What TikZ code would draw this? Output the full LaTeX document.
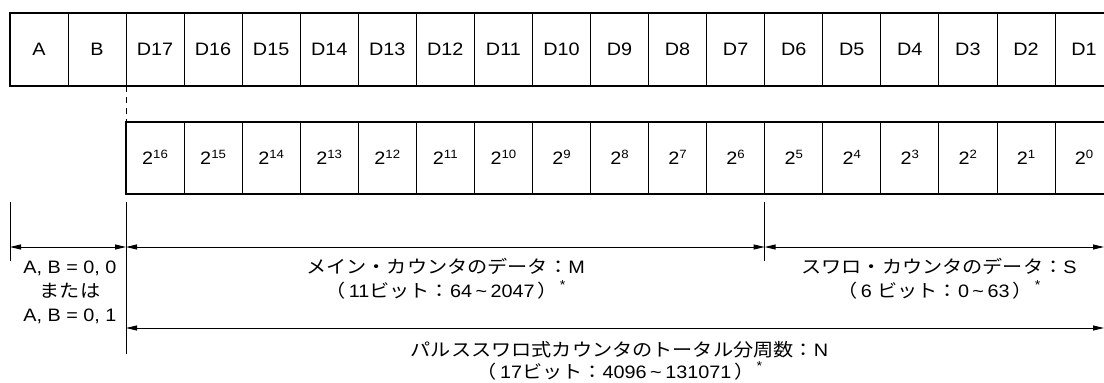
\documentclass[tikz,border=0pt]{standalone}
\usepackage{fontspec}
\setmainfont[FakeStretch=1.1]{Liberation Sans}
\newfontfamily\jp[FakeStretch=1.12,Scale=1.0]{Noto Sans CJK JP}
\usetikzlibrary{arrows.meta,calc}
\newcommand{\sptxt}[1]{\raisebox{6pt}{\fontsize{12}{12}\selectfont #1}}
\newcommand{\astr}{\hspace{2pt}\raisebox{8pt}{\fontsize{13}{13}\selectfont *}}
\newcommand{\tld}{\hspace{3.5pt}\textasciitilde\hspace{3.5pt}}
\newcommand{\lpar}{{\jp （}\hspace{3pt}}
\newcommand{\rpar}{\hspace{3pt}{\jp ）}}
\begin{document}
\begin{tikzpicture}[x=1pt,y=-1pt,
  font=\fontsize{18}{21}\selectfont,
  cell/.style={draw, line width=0.8pt, minimum width=58.06pt, minimum height=73pt,
    inner sep=0pt, outer sep=0pt, text height=12.9pt, text depth=0pt},
  outerbox/.style={line width=2.2pt, line join=miter},
  dimline/.style={line width=0.9pt},
  dimarrow/.style={line width=0.9pt, {Triangle[length=11pt,width=5pt]}-{Triangle[length=11pt,width=5pt]}},
  txt/.style={anchor=base, inner sep=0pt}
]
\useasboundingbox (0,0) rectangle (1104,383);
\clip (0,0) rectangle (1104,383);

% top row
\node[cell] (A) at (39,49.5) {A};
\node[cell] (B) at (97,49.5) {B};
\foreach \k in {1,...,17}{
  \pgfmathsetmacro{\xc}{126+(17-\k+0.5)*58.06}
  \pgfmathtruncatemacro{\e}{\k-1}
  \node[cell] (D\k) at (\xc,49.5) {D\k};
  \node[cell, minimum height=72pt] (P\k) at (\xc,158) {2\sptxt{\e}};
}
\draw[outerbox] (A.north west) rectangle (D1.south east);
\draw[outerbox] (P17.north west) rectangle (P1.south east);

% dashed link
\draw[line width=0.9pt, dash pattern=on 6pt off 5pt] (D17.south west) -- (P17.north west);

% dimension lines
\coordinate (a1) at (10,202);
\coordinate (a2) at (10,261);
\coordinate (b1) at (126,202);
\coordinate (b2) at (126,354);
\coordinate (c1) at ($(D6.south west)+(0,116)$);
\coordinate (c2) at ($(D6.south west)+(0,175)$);
\draw[dimline] (a1) -- (a2);
\draw[dimline] (b1) -- (b2);
\draw[dimline] (c1) -- (c2);

\coordinate (ab1) at (10,247);
\coordinate (ab2) at (126,247);
\coordinate (m2) at ($(D6.south west)+(0,161)$);
\coordinate (s2) at (1104,247);
\coordinate (t1) at (126,328);
\coordinate (t2) at (1104,328);
\draw[dimarrow] (ab1) -- (ab2);
\draw[dimarrow] (ab2) -- (m2);
\draw[dimarrow] (m2) -- (s2);
\draw[dimarrow] (t1) -- (t2);

% labels
\node[txt] (ab11) at (70,273) {A, B = 0, 0};
\node[txt] (ab12) at (70,297) {\jp または};
\node[txt] (ab13) at (70,321) {A, B = 0, 1};

\node[txt] (m11) at (445.5,273) {{\jp メイン・カウンタのデータ：}M};
\node[txt] (m12) at (445.5,297) {\lpar 11{\jp ビット：}64\tld2047\rpar\astr};

\node[txt] (s11) at (939,273) {{\jp スワロ・カウンタのデータ：}S};
\node[txt] (s12) at (939,297) {\lpar 6 {\jp ビット：}0\tld63\rpar\astr};

\node[txt] (t11) at (619.5,356) {{\jp パルススワロ式カウンタのトータル分周数：}N};
\node[txt] (t12) at (619.5,378) {\lpar 17{\jp ビット：}4096\tld131071\rpar\astr};
\end{tikzpicture}
\end{document}
